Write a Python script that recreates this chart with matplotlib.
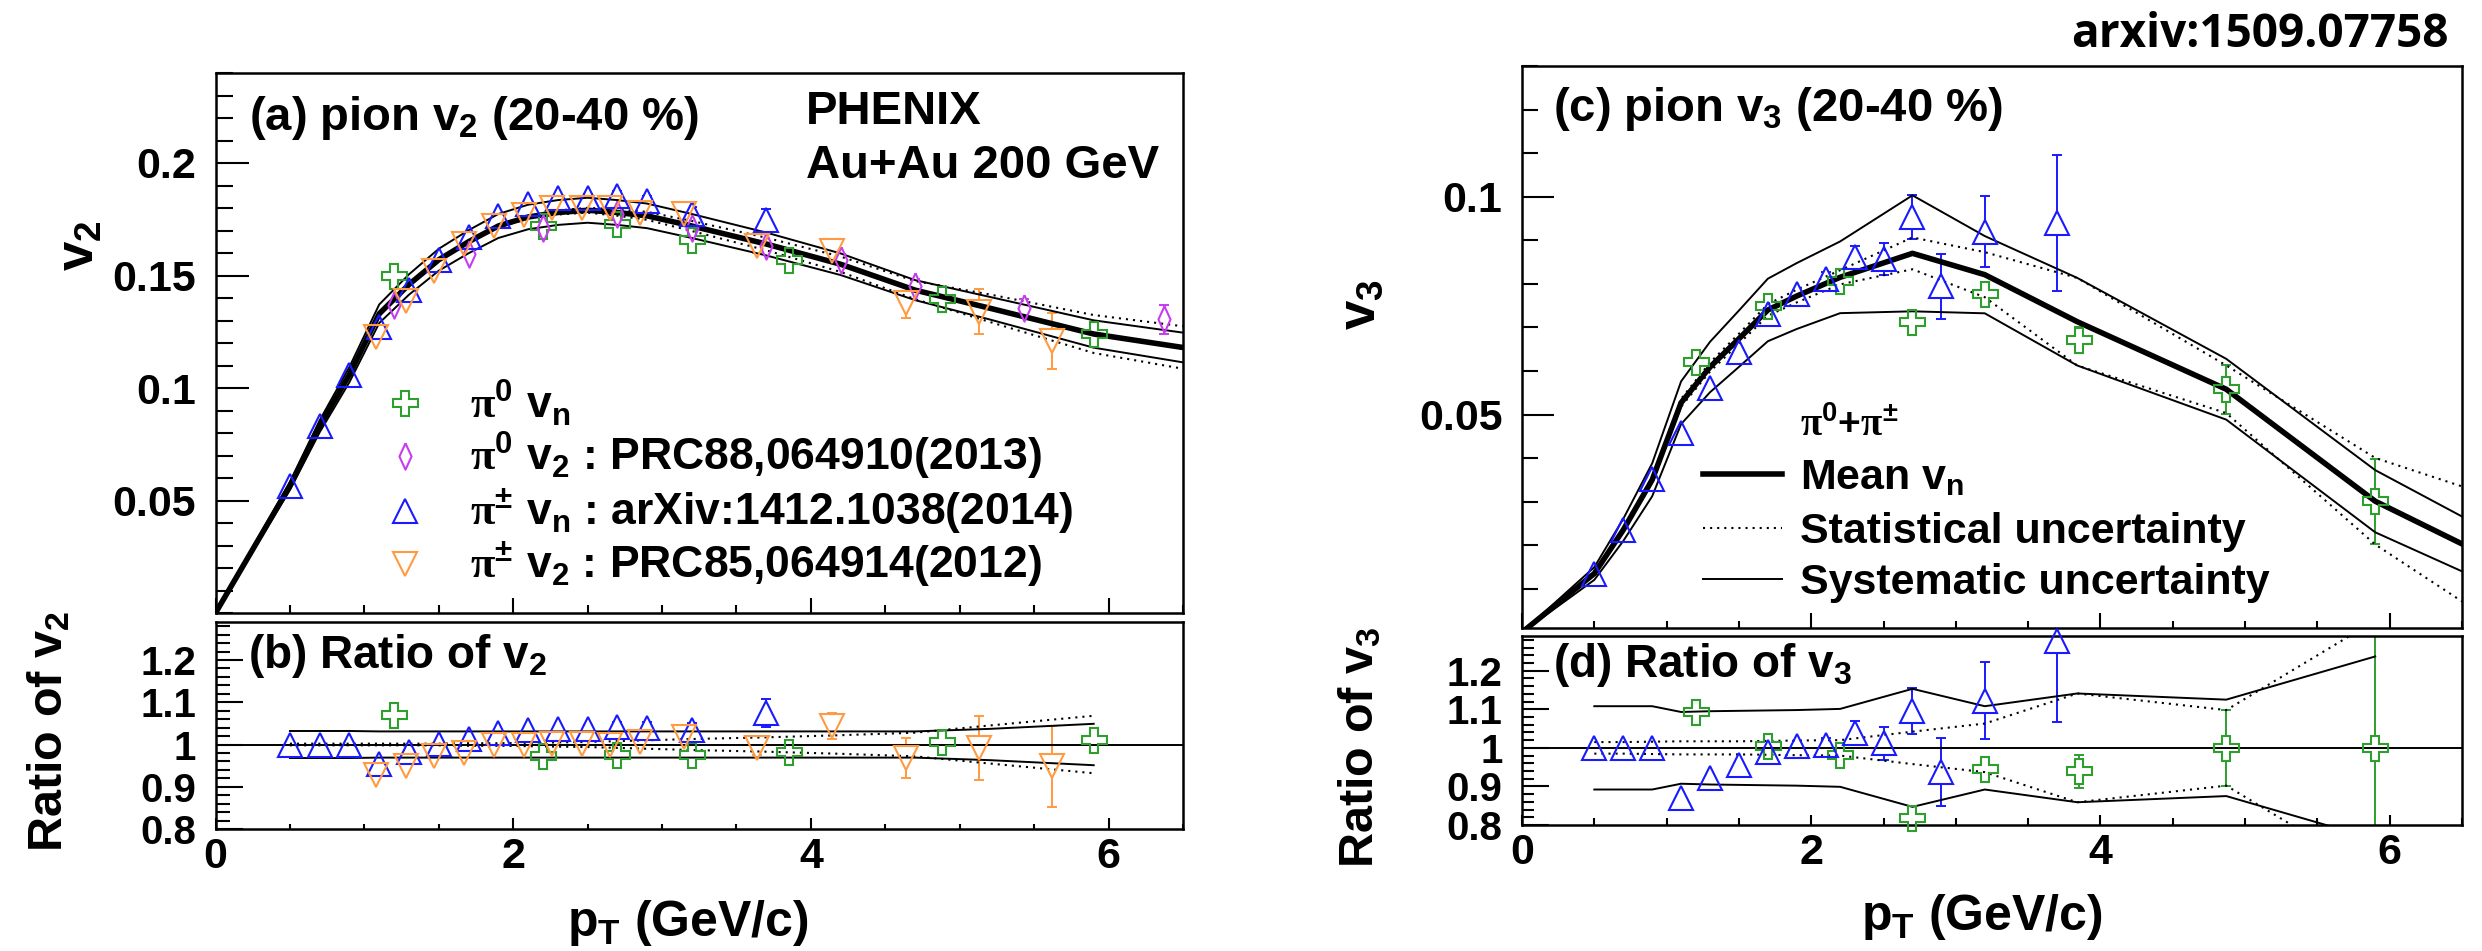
import numpy as np
import matplotlib
matplotlib.use("Agg")
import matplotlib.pyplot as plt
from matplotlib.ticker import FixedLocator, MultipleLocator

plt.rcParams['font.family'] = ['Liberation Sans', 'DejaVu Sans']
plt.rcParams['font.weight'] = 'bold'
plt.rcParams['mathtext.fontset'] = 'custom'
plt.rcParams['mathtext.rm'] = 'Liberation Sans:bold'
plt.rcParams['mathtext.it'] = 'Liberation Sans:bold'
plt.rcParams['mathtext.bf'] = 'Liberation Sans:bold'
plt.rcParams['mathtext.sf'] = 'Liberation Serif'

# ---------------- v2 (panels a, b) ----------------
# combined mean v2 and its relative uncertainties
pt_mean2 = [0, 0.5, 0.7, 0.9, 1.1, 1.3, 1.5, 1.7, 1.9, 2.1, 2.3, 2.5, 2.7, 2.9,
            3.2, 3.7, 4.2, 4.7, 5.2, 5.9, 6.5]
v2_mean = [0, 0.0565, 0.083, 0.106, 0.133, 0.146, 0.157, 0.165, 0.172, 0.176,
           0.178, 0.179, 0.178, 0.1765, 0.172, 0.164, 0.155, 0.1435, 0.1355,
           0.124, 0.118]
v2_sys_rel = [0.032, 0.032, 0.032, 0.032, 0.031, 0.031, 0.031, 0.031, 0.031,
              0.031, 0.031, 0.031, 0.031, 0.031, 0.031, 0.031, 0.031, 0.031,
              0.037, 0.049, 0.056]
v2_stat_rel = [0.002, 0.002, 0.002, 0.002, 0.002, 0.002, 0.002, 0.003, 0.003,
               0.004, 0.005, 0.006, 0.008, 0.010, 0.013, 0.017, 0.022, 0.028,
               0.045, 0.068, 0.080]

# pi0 vn
pt_pi0_vn2 = [1.2, 2.2, 2.7, 3.2, 3.85, 4.88, 5.9]
v2_pi0_vn = [0.150, 0.172, 0.1728, 0.1657, 0.157, 0.1396, 0.1238]
v2_pi0_vn_err = [0.001, 0.001, 0.0012, 0.0015, 0.002, 0.0025, 0.003]
r2_pi0_vn = [1.07, 0.972, 0.976, 0.975, 0.982, 1.007, 1.01]
r2_pi0_vn_err = [0.006, 0.006, 0.007, 0.009, 0.012, 0.018, 0.025]

# pi0 v2 : PRC88,064910(2013)
pt_pi0_v2 = [1.2, 1.7, 2.2, 2.7, 3.2, 3.7, 4.2, 4.7, 5.43, 6.37]
v2_pi0_v2 = [0.137, 0.1594, 0.171, 0.1775, 0.171, 0.1633, 0.157, 0.1455,
             0.1357, 0.1306]
v2_pi0_v2_err = [0.001, 0.001, 0.001, 0.0012, 0.0015, 0.002, 0.0025, 0.003,
                 0.004, 0.0065]

# pi+- vn : arXiv:1412.1038(2014)
pt_pipm_vn2 = [0.5, 0.7, 0.9, 1.1, 1.3, 1.5, 1.7, 1.9, 2.1, 2.3, 2.5, 2.7, 2.9,
               3.2, 3.7]
v2_pipm_vn = [0.0565, 0.083, 0.106, 0.127, 0.1435, 0.157, 0.167, 0.1765, 0.182,
              0.1846, 0.1846, 0.1855, 0.183, 0.1775, 0.1745]
v2_pipm_vn_err = [0.0005, 0.0005, 0.0005, 0.0006, 0.0007, 0.0008, 0.0009, 0.001,
                  0.0012, 0.0014, 0.0016, 0.002, 0.0025, 0.003, 0.005]
r2_pipm_vn = [1.0, 1.0, 1.0, 0.953, 0.983, 1.002, 1.014, 1.027, 1.034, 1.037,
              1.037, 1.042, 1.04, 1.035, 1.074]
r2_pipm_vn_err = [0.003, 0.003, 0.003, 0.004, 0.004, 0.005, 0.005, 0.006, 0.007,
                  0.008, 0.009, 0.011, 0.014, 0.017, 0.033]

# pi+- v2 : PRC85,064914(2012)
pt_pipm_v2 = [1.08, 1.28, 1.47, 1.67, 1.87, 2.07, 2.26, 2.46, 2.65, 2.85, 3.15,
              3.64, 4.14, 4.64, 5.13, 5.62]
v2_pipm_v2 = [0.1227, 0.1385, 0.152, 0.164, 0.172, 0.177, 0.180, 0.180, 0.180,
              0.178, 0.1775, 0.163, 0.161, 0.138, 0.134, 0.121]
v2_pipm_v2_err = [0.0005, 0.0005, 0.0006, 0.0007, 0.0008, 0.0009, 0.001, 0.0011,
                  0.0013, 0.0015, 0.0018, 0.003, 0.0048, 0.0067, 0.0101, 0.0124]
r2_pipm_v2 = [0.927, 0.949, 0.972, 0.981, 0.998, 1.0, 1.002, 1.002, 1.0, 1.005,
              1.018, 0.992, 1.043, 0.968, 0.992, 0.948]
r2_pipm_v2_err = [0.003, 0.003, 0.004, 0.004, 0.005, 0.005, 0.006, 0.006, 0.007,
                  0.008, 0.010, 0.018, 0.031, 0.047, 0.075, 0.097]

# ---------------- v3 (panels c, d) ----------------
pt_mean3 = [0, 0.5, 0.7, 0.9, 1.1, 1.3, 1.5, 1.7, 1.9, 2.2, 2.7, 3.2, 3.84,
            4.87, 5.9, 6.5]
v3_mean = [0.0, 0.0135, 0.0235, 0.035, 0.0527, 0.0609, 0.0674, 0.074, 0.0772,
           0.0815, 0.087, 0.0821, 0.0713, 0.0558, 0.0301, 0.0203]
v3_sys_rel = [0.108, 0.108, 0.108, 0.108, 0.093, 0.095, 0.096, 0.097, 0.098,
              0.101, 0.153, 0.108, 0.141, 0.125, 0.237, 0.31]
v3_stat_rel = [0.015, 0.015, 0.015, 0.016, 0.017, 0.017, 0.017, 0.018, 0.019,
               0.020, 0.042, 0.063, 0.141, 0.098, 0.33, 0.65]

pt_pi0_v3 = [1.2, 1.7, 2.2, 2.7, 3.2, 3.85, 4.87, 5.9]
v3_pi0 = [0.0621, 0.0748, 0.0807, 0.0712, 0.0776, 0.0671, 0.0558, 0.0301]
v3_pi0_err = [0.0008, 0.0009, 0.001, 0.0012, 0.0015, 0.0029, 0.0056, 0.0098]
r3_pi0 = [1.092, 1.006, 0.982, 0.817, 0.945, 0.939, 1.0, 1.0]
r3_pi0_err = [0.01, 0.012, 0.013, 0.017, 0.02, 0.042, 0.098, 0.33]

pt_pipm_v3 = [0.5, 0.7, 0.9, 1.1, 1.3, 1.5, 1.7, 1.9, 2.1, 2.3, 2.5, 2.7, 2.9,
              3.2, 3.7]
v3_pipm = [0.0135, 0.0235, 0.0351, 0.0458, 0.0562, 0.0644, 0.073, 0.0776,
           0.0812, 0.0862, 0.0857, 0.0953, 0.0794, 0.0920, 0.0939]
v3_pipm_err = [0.0002, 0.0003, 0.0004, 0.0005, 0.0006, 0.0008, 0.0009, 0.001,
               0.0015, 0.0025, 0.0036, 0.005, 0.0074, 0.0082, 0.0156]
r3_pipm = [1.0, 1.0, 1.0, 0.870, 0.923, 0.955, 0.99, 1.005, 1.008, 1.039,
           1.012, 1.096, 0.938, 1.122, 1.277]
r3_pipm_err = [0.003, 0.004, 0.005, 0.006, 0.007, 0.008, 0.01, 0.013, 0.018,
               0.03, 0.043, 0.06, 0.088, 0.1, 0.21]

x_major = [0, 2, 4, 6]
x_tick_labels = ['0', '2', '4', '6']
v2_ticks = [0.05, 0.1, 0.15, 0.2]
v2_tick_labels = ['0.05', '0.1', '0.15', '0.2']
v3_ticks = [0.05, 0.1]
v3_tick_labels = ['0.05', '0.1']
r_ticks = [0.8, 0.9, 1.0, 1.1, 1.2]
r_tick_labels = ['0.8', '0.9', '1', '1.1', '1.2']

C_GREEN = '#2e9e2e'
C_MAG = '#c73cf0'
C_BLUE = '#1a1aff'
C_ORANGE = '#ff9a40'

DIAMOND = [(0, 1), (0.46, 0), (0, -1), (-0.46, 0), (0, 1)]

W, H = 2482, 951
fig = plt.figure(figsize=(W / 100, H / 100), dpi=100)


def rect(l, t, r, b):
    return [l / W, 1 - b / H, (r - l) / W, (b - t) / H]


ax_a = fig.add_axes(rect(215.5, 73, 1183, 613))
ax_b = fig.add_axes(rect(215.5, 622, 1183, 829))
ax_c = fig.add_axes(rect(1522, 66, 2462, 628))
ax_d = fig.add_axes(rect(1522, 636, 2462, 825))


def setup(ax, ylim, yt, ylab, yminor, ymaj, ymin, xmaj, xmin, ysize, xlabels):
    ax.set_xlim(0, 6.5)
    ax.set_ylim(*ylim)
    ax.xaxis.set_major_locator(FixedLocator(x_major))
    ax.xaxis.set_minor_locator(MultipleLocator(0.5))
    ax.yaxis.set_major_locator(FixedLocator(yt))
    ax.yaxis.set_minor_locator(MultipleLocator(yminor))
    ax.set_yticklabels(ylab)
    if xlabels:
        ax.set_xticklabels(x_tick_labels)
    else:
        ax.tick_params(labelbottom=False)
    ax.tick_params(which='both', direction='in', top=False, right=False,
                   width=1.5, color='black')
    ax.tick_params(axis='y', which='major', length=ymaj, pad=14, labelsize=ysize)
    ax.tick_params(axis='y', which='minor', length=ymin)
    ax.tick_params(axis='x', which='major', length=xmaj, pad=6, labelsize=31)
    ax.tick_params(axis='x', which='minor', length=xmin)
    for sp in ax.spines.values():
        sp.set_linewidth(1.8)


setup(ax_a, (0, 0.24), v2_ticks, v2_tick_labels, 0.01, 23.5, 12, 11, 5.8, 31, False)
setup(ax_b, (0.8, 1.29), r_ticks, r_tick_labels, 0.02, 19.5, 10, 8, 3.6, 29, True)
setup(ax_c, (0.001, 0.13), v3_ticks, v3_tick_labels, 0.01, 23, 11.5, 11, 5, 31, False)
setup(ax_d, (0.8, 1.29), r_ticks, r_tick_labels, 0.02, 19.5, 8.6, 7.2, 5, 29, True)


def points(ax, x, y, e, marker, color, ms):
    ax.errorbar(x, y, yerr=e, fmt='none', ecolor=color, elinewidth=1.4,
                capsize=3.6, capthick=1.4, zorder=2)
    ax.plot(x, y, ls='none', marker=marker, ms=ms, mfc='white', mec='none',
            zorder=2.2, clip_on=False)
    ax.plot(x, y, ls='none', marker=marker, ms=ms, mfc='none', mec=color,
            mew=1.5, zorder=4, clip_on=False)


def bands(ax, pt, centre, sys_rel, stat_rel):
    pt = np.asarray(pt)
    c = np.asarray(centre)
    s = np.asarray(sys_rel)
    st = np.asarray(stat_rel)
    for sign in (1, -1):
        ax.plot(pt, c * (1 + sign * s), color='black', lw=1.4, zorder=3)
        ax.plot(pt, c * (1 + sign * st), color='black', lw=1.5,
                ls=(0, (1, 2.4)), zorder=3)


# (a) v2
bands(ax_a, pt_mean2, v2_mean, v2_sys_rel, v2_stat_rel)
ax_a.plot(pt_mean2, v2_mean, color='black', lw=4, zorder=3.2)
points(ax_a, pt_pi0_vn2, v2_pi0_vn, v2_pi0_vn_err, 'P', C_GREEN, 18)
points(ax_a, pt_pi0_v2, v2_pi0_v2, v2_pi0_v2_err, DIAMOND, C_MAG, 19)
points(ax_a, pt_pipm_vn2, v2_pipm_vn, v2_pipm_vn_err, '^', C_BLUE, 17)
points(ax_a, pt_pipm_v2, v2_pipm_v2, v2_pipm_v2_err, 'v', C_ORANGE, 17)

# (b) ratio of v2
sl2 = slice(1, 20)
ax_b.axhline(1.0, color='black', lw=1.4, zorder=3)
bands(ax_b, pt_mean2[sl2], np.ones(len(pt_mean2[sl2])), v2_sys_rel[sl2], v2_stat_rel[sl2])
points(ax_b, pt_pi0_vn2, r2_pi0_vn, r2_pi0_vn_err, 'P', C_GREEN, 18)
points(ax_b, pt_pipm_vn2, r2_pipm_vn, r2_pipm_vn_err, '^', C_BLUE, 17)
points(ax_b, pt_pipm_v2, r2_pipm_v2, r2_pipm_v2_err, 'v', C_ORANGE, 17)

# (c) v3
bands(ax_c, pt_mean3, v3_mean, v3_sys_rel, v3_stat_rel)
ax_c.plot(pt_mean3, v3_mean, color='black', lw=4, zorder=3.2)
points(ax_c, pt_pi0_v3, v3_pi0, v3_pi0_err, 'P', C_GREEN, 18)
points(ax_c, pt_pipm_v3, v3_pipm, v3_pipm_err, '^', C_BLUE, 17)

# (d) ratio of v3
sl3 = slice(1, 15)
ax_d.axhline(1.0, color='black', lw=1.4, zorder=3)
bands(ax_d, pt_mean3[sl3], np.ones(len(pt_mean3[sl3])), v3_sys_rel[sl3], v3_stat_rel[sl3])
points(ax_d, pt_pi0_v3, r3_pi0, r3_pi0_err, 'P', C_GREEN, 18)
points(ax_d, pt_pipm_v3, r3_pipm, r3_pipm_err, '^', C_BLUE, 17)

# ---------------- overlay: titles, labels, legends ----------------
ov = fig.add_axes([0, 0, 1, 1], zorder=10)
ov.set_xlim(0, W)
ov.set_ylim(H, 0)
ov.axis('off')
ov.patch.set_alpha(0)

ov.text(2449, 47, 'arxiv:1509.07758', ha='right', va='baseline', fontsize=33,
        family=['Open Sans', 'DejaVu Sans'], weight='bold')

ov.text(249, 130, r'(a) pion $v_{2}$ (20-40 %)', fontsize=34, va='baseline')
ov.text(806, 124, 'PHENIX', fontsize=34, va='baseline')
ov.text(806, 178, 'Au+Au 200 GeV', fontsize=34, va='baseline')
ov.text(248, 668, r'(b) Ratio of $v_{2}$', fontsize=33, va='baseline')
ov.text(1553, 121, r'(c) pion $v_{3}$ (20-40 %)', fontsize=34, va='baseline')
ov.text(1553, 677, r'(d) Ratio of $v_{3}$', fontsize=33, va='baseline')

ov.text(80, 246, r'$v_{2}$', fontsize=38, rotation=90, ha='center', va='center')
ov.text(1361, 305, r'$v_{3}$', fontsize=38, rotation=90, ha='center', va='center')
ov.text(49, 731, r'Ratio of $v_{2}$', fontsize=35, rotation=90, ha='center', va='center')
ov.text(1360, 747, r'Ratio of $v_{3}$', fontsize=35, rotation=90, ha='center', va='center')
ov.text(688, 923, r'$p_{T}$ (GeV/c)', fontsize=36, ha='center', va='center')
ov.text(1982, 917, r'$p_{T}$ (GeV/c)', fontsize=36, ha='center', va='center')

# legend of panel (a)
leg_a = [
    ('P', C_GREEN, 18, r'$\mathsf{\pi}^{0}\ v_{n}$'),
    (DIAMOND, C_MAG, 19, r'$\mathsf{\pi}^{0}\ v_{2}$ : PRC88,064910(2013)'),
    ('^', C_BLUE, 17, r'$\mathsf{\pi}^{\pm}\ v_{n}$ : arXiv:1412.1038(2014)'),
    ('v', C_ORANGE, 17, r'$\mathsf{\pi}^{\pm}\ v_{2}$ : PRC85,064914(2012)'),
]
for (mk, col, ms, lab), y in zip(leg_a, [403, 456, 511, 564]):
    ov.plot([405], [y], ls='none', marker=mk, ms=ms, mfc='none', mec=col, mew=1.5)
    ov.text(470, y + 15, lab, fontsize=32, va='baseline')

# legend of panel (c)
ov.text(1800, 436, r'$\mathsf{\pi}^{0}$+$\mathsf{\pi}^{\pm}$', fontsize=28, va='baseline')
leg_c = [
    (dict(lw=4, ls='-'), r'Mean $v_{n}$'),
    (dict(lw=1.5, ls=(0, (1, 2.4))), 'Statistical uncertainty'),
    (dict(lw=1.4, ls='-'), 'Systematic uncertainty'),
]
for (st, lab), y in zip(leg_c, [474, 528, 579]):
    ov.plot([1703, 1782], [y, y], color='black', **st)
    ov.text(1800, y + 15, lab, fontsize=31, va='baseline')

fig.savefig('out.png', dpi=100)
